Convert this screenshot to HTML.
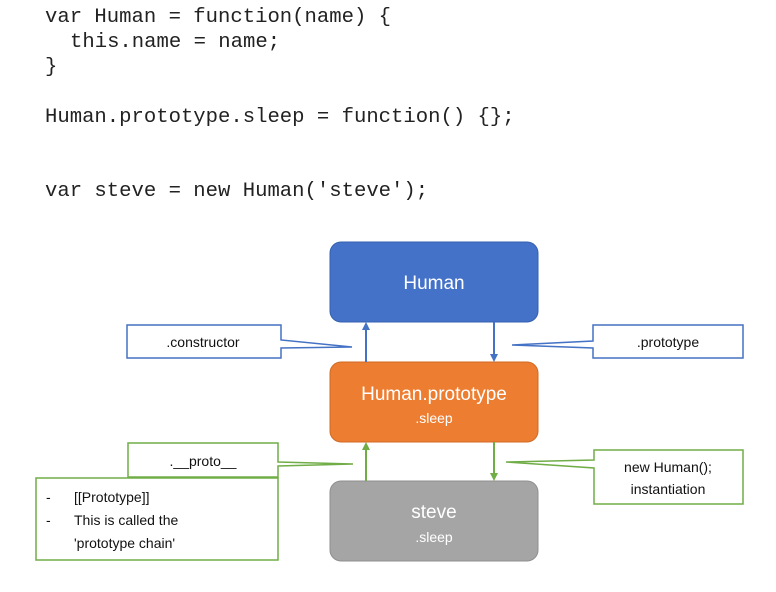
<!DOCTYPE html>
<html><head><style>
body{margin:0;background:#fff;width:776px;height:592px;overflow:hidden}
svg{display:block}
.code{font-family:"Liberation Mono",monospace;font-size:20.6px;fill:#222}
.lab{font-family:"Liberation Sans",sans-serif;font-size:14px;fill:#111}
.big{font-family:"Liberation Sans",sans-serif;font-size:19px;fill:#fff}
.sm{font-family:"Liberation Sans",sans-serif;font-size:14px;fill:#fff}
</style></head><body>
<svg width="776" height="592" viewBox="0 0 776 592">
<text class="code" x="45" y="22">var Human = function(name) {</text>
<text class="code" x="70" y="47">this.name = name;</text>
<text class="code" x="45" y="72">}</text>
<text class="code" x="45" y="122">Human.prototype.sleep = function() {};</text>
<text class="code" x="45" y="196">var steve = new Human('steve');</text>

<rect x="330" y="242" width="208" height="80" rx="11" fill="#4472c8" stroke="#3560b0"/>
<text class="big" x="434" y="289" text-anchor="middle">Human</text>
<rect x="330" y="362" width="208" height="80" rx="11" fill="#ed7d31" stroke="#d06a25"/>
<text class="big" x="434" y="400" text-anchor="middle">Human.prototype</text>
<text class="sm" x="434" y="423" text-anchor="middle">.sleep</text>
<rect x="330" y="481" width="208" height="80" rx="11" fill="#a5a5a5" stroke="#8f8f8f"/>
<text class="big" x="434" y="518" text-anchor="middle">steve</text>
<text class="sm" x="434" y="542" text-anchor="middle">.sleep</text>

<g stroke="#4472c4" stroke-width="2" fill="#4472c4">
<line x1="366" y1="362" x2="366" y2="328"/><polygon points="362,330 366,322 370,330" stroke="none"/>
<line x1="494" y1="322" x2="494" y2="356"/><polygon points="490,354 494,362 498,354" stroke="none"/>
</g>
<g stroke="#70ad47" stroke-width="2" fill="#70ad47">
<line x1="366" y1="481" x2="366" y2="448"/><polygon points="362,450 366,442 370,450" stroke="none"/>
<line x1="494" y1="442" x2="494" y2="475"/><polygon points="490,473 494,481 498,473" stroke="none"/>
</g>

<g fill="#fff" stroke-width="1.5">
<polygon stroke="#4472c4" points="127,325 281,325 281,340 352,347 281,348 281,358 127,358"/>
<polygon stroke="#4472c4" points="593,325 743,325 743,358 593,358 593,348 512,345 593,341"/>
<polygon stroke="#70ad47" points="128,443 278,443 278,462 353,464 278,466 278,477 128,477"/>
<polygon stroke="#70ad47" points="594,450 743,450 743,504 594,504 594,468 506,462 594,460"/>
<rect stroke="#70ad47" x="36" y="478" width="242" height="82"/>
</g>
<text class="lab" x="203" y="347" text-anchor="middle">.constructor</text>
<text class="lab" x="668" y="347" text-anchor="middle">.prototype</text>
<text class="lab" x="203" y="466" text-anchor="middle">.__proto__</text>
<text class="lab" x="668" y="472" text-anchor="middle">new Human();</text>
<text class="lab" x="668" y="494" text-anchor="middle">instantiation</text>
<text class="lab" x="46" y="502">-</text><text class="lab" x="74" y="502">[[Prototype]]</text>
<text class="lab" x="46" y="525">-</text><text class="lab" x="74" y="525">This is called the</text>
<text class="lab" x="74" y="548">'prototype chain'</text>
</svg>
</body></html>
